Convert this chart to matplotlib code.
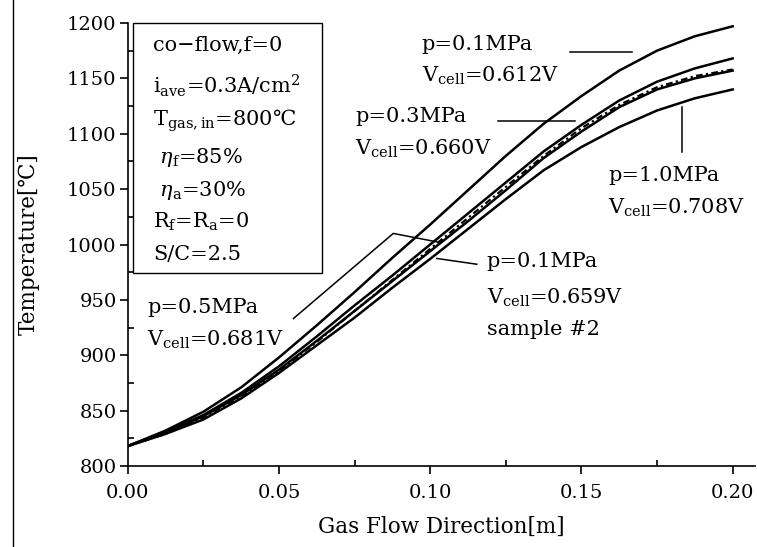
import matplotlib
matplotlib.use("agg")
import matplotlib.pyplot as plt
from matplotlib.lines import Line2D
from matplotlib.patches import Rectangle
from matplotlib.ticker import MultipleLocator, FormatStrFormatter

# gas flow position [m]
x_pos = [0.0, 0.0125, 0.025, 0.0375, 0.05, 0.0625, 0.075, 0.0875, 0.1,
         0.1125, 0.125, 0.1375, 0.15, 0.1625, 0.175, 0.1875, 0.2]

# cell temperature [C]
t_p01 = [818, 832, 849, 871, 898, 927, 957, 988, 1018, 1049, 1080, 1109,
         1134, 1157, 1175, 1188, 1197]
t_p03 = [818, 831, 846, 866, 890, 917, 945, 972, 1000, 1028, 1056, 1084,
         1108, 1130, 1147, 1159, 1168]
t_p05 = [818, 830, 845, 864, 887, 913, 940, 967, 994, 1021, 1049, 1078,
         1102, 1124, 1140, 1150, 1157]
t_sample2 = [818, 829, 844, 863, 886, 912, 940, 968, 996, 1024, 1052, 1080,
             1105, 1126, 1142, 1152, 1158]
t_p10 = [818, 829, 842, 861, 884, 909, 934, 961, 987, 1014, 1041, 1067,
         1088, 1106, 1121, 1132, 1140]

box_lines = [
    "co\u2212flow,f=0",
    "i$_{\\rm ave}$=0.3A/cm$^{2}$",
    "T$_{\\rm gas,in}$=800\u2103",
    " $\\eta_{\\rm f}$=85%",
    " $\\eta_{\\rm a}$=30%",
    "R$_{\\rm f}$=R$_{\\rm a}$=0",
    "S/C=2.5",
]

plt.rcParams["font.family"] = ["DejaVu Serif", "DejaVu Sans"]
plt.rcParams["mathtext.fontset"] = "dejavuserif"

fig = plt.figure(figsize=(7.57, 5.47), dpi=100)
ax = fig.add_axes([0.1687, 0.148, 0.8287, 0.810])

line_kw = dict(color="black", lw=1.8)
ax.plot(x_pos, t_p01, **line_kw)
ax.plot(x_pos, t_p03, **line_kw)
ax.plot(x_pos, t_p05, **line_kw)
ax.plot(x_pos, t_p10, **line_kw)
ax.plot(x_pos, t_sample2, color="black", lw=1.6, ls=(0, (3, 1.5, 1, 1.5)))

ax.set_xlim(0, 0.2074)
ax.set_ylim(800, 1200)
ax.xaxis.set_major_locator(MultipleLocator(0.05))
ax.xaxis.set_minor_locator(MultipleLocator(0.025))
ax.yaxis.set_major_locator(MultipleLocator(50))
ax.yaxis.set_minor_locator(MultipleLocator(25))
ax.xaxis.set_major_formatter(FormatStrFormatter("%.2f"))
ax.tick_params(which="major", direction="out", length=6, width=1.2,
               labelsize=14)
ax.tick_params(axis="x", which="major", pad=7)
ax.tick_params(axis="y", which="major", pad=2)
ax.tick_params(which="minor", direction="in", length=4, width=1.2)
for side in ("top", "right"):
    ax.spines[side].set_visible(False)
for side in ("left", "bottom"):
    ax.spines[side].set_linewidth(1.2)

ax.set_xlabel("Gas Flow Direction[m]", fontsize=15.5, labelpad=10)
ax.set_ylabel("Temperature[\u2103]", fontsize=15.5, labelpad=20)

# parameter box
ax.add_patch(Rectangle((0.00185, 974.4), 0.0624, 225.6, fill=False, lw=1.0,
                       color="black", clip_on=False))
box_y = [1175, 1137, 1107, 1074, 1044, 1015, 986]
for txt, yy in zip(box_lines, box_y):
    ax.text(0.0084, yy, txt, fontsize=15, va="baseline")

# curve labels (baseline positions)
lab = dict(fontsize=15, va="baseline")
ax.text(0.0972, 1176, "p=0.1MPa", **lab)
ax.text(0.0972, 1147, "V$_{\\rm cell}$=0.612V", **lab)
ax.text(0.0752, 1111, "p=0.3MPa", **lab)
ax.text(0.0752, 1081, "V$_{\\rm cell}$=0.660V", **lab)
ax.text(0.1588, 1057, "p=1.0MPa", **lab)
ax.text(0.1588, 1028, "V$_{\\rm cell}$=0.708V", **lab)
ax.text(0.1187, 980, "p=0.1MPa", **lab)
ax.text(0.1187, 947, "V$_{\\rm cell}$=0.659V", **lab)
ax.text(0.1187, 918, "sample #2", **lab)
ax.text(0.0064, 938, "p=0.5MPa", **lab)
ax.text(0.0064, 909, "V$_{\\rm cell}$=0.681V", **lab)

# leader lines
lead = dict(color="black", lw=1.1)
ax.plot([0.1463, 0.1667], [1173.5, 1173.5], **lead)
ax.plot([0.1225, 0.1479], [1111.8, 1111.8], **lead)
ax.plot([0.1832, 0.1832], [1124.4, 1083.7], **lead)
ax.plot([0.1022, 0.1154], [987.4, 982.2], **lead)
ax.plot([0.0548, 0.0878, 0.1022], [933.2, 1010, 1002.4], **lead)

# page edge from the scan
fig.add_artist(Line2D([0.0176, 0.0176], [0, 1], color="black", lw=1.0))

fig.savefig("out.png", dpi=100)
